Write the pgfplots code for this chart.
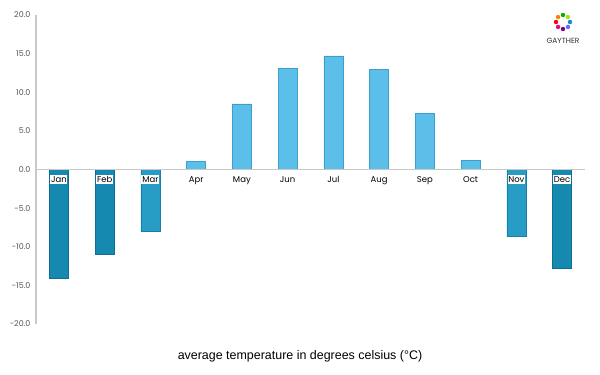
\documentclass[border=0pt]{standalone}
\usepackage{pgfplots}
\pgfplotsset{compat=1.18}
\usetikzlibrary{calc}
\usepackage{fontspec}
\setmainfont{Poppins}
\newfontfamily\arialfont{Liberation Sans}
\definecolor{posfill}{HTML}{5BBFE9}
\definecolor{posdraw}{HTML}{3A9FCF}
\definecolor{darkfill}{HTML}{1689B0}
\definecolor{darkdraw}{HTML}{0E6E91}
\definecolor{midfill}{HTML}{279DC6}
\definecolor{middraw}{HTML}{1A7FA6}
\definecolor{axgray}{HTML}{C8C8C8}
\definecolor{tickgray}{HTML}{555555}
\begin{document}
\begin{tikzpicture}
\useasboundingbox (0,0) rectangle (600bp,375bp);
\begin{axis}[
  at={(36bp,51bp)}, anchor=south west,
  scale only axis, width=549bp, height=309bp,
  xmin=-0.5, xmax=11.5, ymin=-20, ymax=20,
  axis x line=middle, axis y line=left,
  axis line style={axgray, line width=1.2bp, -},
  axis on top,
  xtick={0,...,11},
  xticklabels={Jan,Feb,Mar,Apr,May,Jun,Jul,Aug,Sep,Oct,Nov,Dec},
  xticklabel style={font=\fontsize{8.5}{9}\selectfont, fill=white, inner sep=0.8bp, text height=6.4bp, text depth=1.2bp, anchor=north, yshift=-5.5bp, text=black},
  ytick={-20,-15,...,20},
  yticklabel style={font=\fontsize{8}{9}\selectfont, text=tickgray, xshift=-2bp,
    /pgf/number format/fixed, /pgf/number format/fixed zerofill, /pgf/number format/precision=1, /pgf/number format/assume math mode=true},
  major tick length=0pt,
  ybar, bar width=19bp,
  clip=false,
]
\addplot[fill=posfill, draw=posdraw, line width=0.6bp, bar shift=0pt] coordinates {
  (3,1.1) (4,8.5) (5,13.1) (6,14.7) (7,13.0) (8,7.3) (9,1.2)};
\addplot[fill=darkfill, draw=darkdraw, line width=0.6bp, bar shift=0pt] coordinates {
  (0,-14.1) (1,-11.0) (11,-12.8)};
\addplot[fill=midfill, draw=middraw, line width=0.6bp, bar shift=0pt] coordinates {
  (2,-8.0) (10,-8.7)};
\end{axis}
% logo
\foreach \a/\c in {90/green!70!black,45/yellow!70!green,0/cyan!70!blue,-45/blue!60,-90/violet,-135/magenta,180/red,135/orange}{
  \fill[\c] ($(563bp,353bp)+(\a:7bp)$) circle (2.2bp);
}
\node[font=\fontsize{7.5}{8}\selectfont, text=black!80] at (563bp,334bp) {GAYTHER};
\node[font=\arialfont\fontsize{12.5}{14}\selectfont] at (300bp,19bp) {average temperature in degrees celsius (°C)};
\end{tikzpicture}
\end{document}
